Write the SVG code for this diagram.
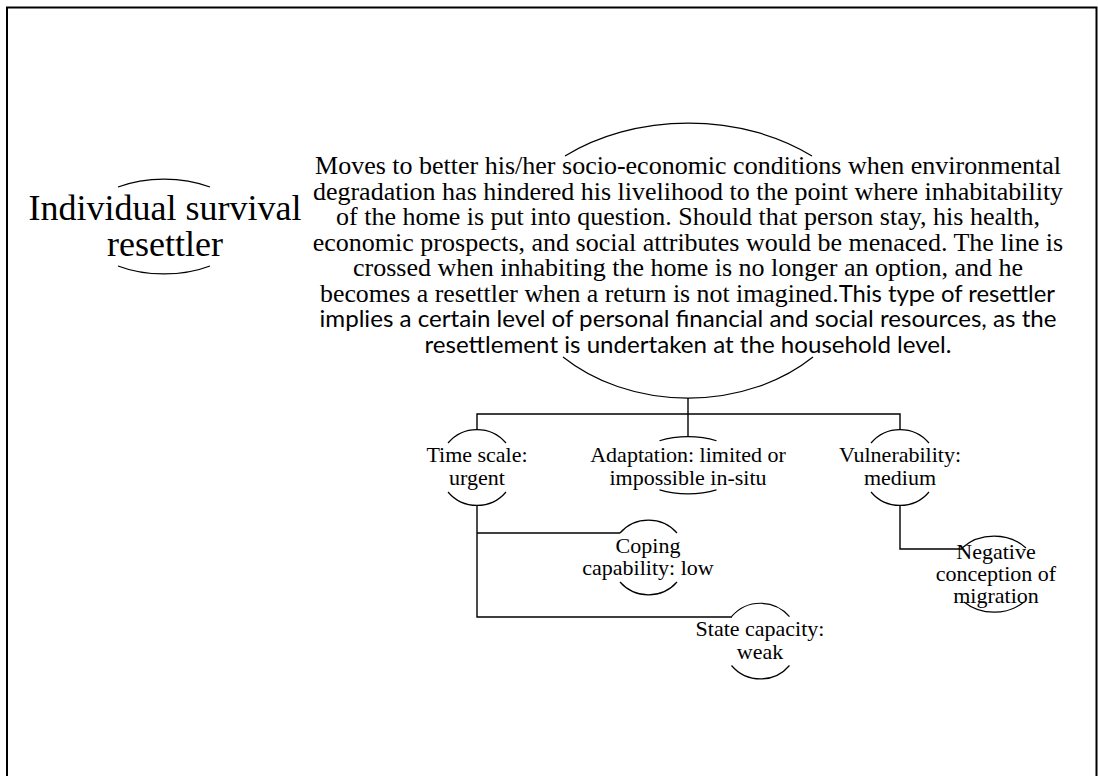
<svg xmlns="http://www.w3.org/2000/svg" width="1098" height="776" viewBox="0 0 1098 776">
  <style>
    .serif { font-family: "Liberation Serif", "Times New Roman", serif; fill: #000; }
    .sans { font-family: Lato, "Open Sans", sans-serif; fill: #000; }
    .title { font-size: 36px; text-anchor: middle; }
    .body { font-size: 26px; text-anchor: middle; }
    .small { font-size: 22px; text-anchor: middle; }
    .arc { fill: none; stroke: #000; stroke-width: 1.2; }
    .link { fill: none; stroke: #000; stroke-width: 1.4; }
    .frame { fill: none; stroke: #000; stroke-width: 2; }
  </style>
  <rect width="1098" height="776" fill="#fff"/>

  <!-- slide frame (open at the bottom) -->
  <path class="frame" d="M7 777 V7.5 H1096.5 V777"/>

  <!-- connectors -->
  <g id="connectors">
    <path class="link" d="M688 398 V437"/>
    <path class="link" d="M477 430 V414 H900 V430"/>
    <path class="link" d="M477 505 V617 H732"/>
    <path class="link" d="M477 533 H620"/>
    <path class="link" d="M900 505 V549 H962"/>
  </g>

  <!-- title node -->
  <g id="node-title">
    <path class="arc" d="M118 187 A83 47.5 0 0 1 210 187"/>
    <path class="arc" d="M118 266 A83 47.5 0 0 0 210 266"/>
    <text class="serif title" x="165" y="220">Individual survival</text>
    <text class="serif title" x="165" y="256">resettler</text>
  </g>

  <!-- description node -->
  <g id="node-description">
    <path class="arc" d="M565 156 A190 137 0 0 1 812 156"/>
    <path class="arc" d="M563 357 A175 137 0 0 0 813 357"/>
    <text class="serif body" x="688" y="174">Moves to better his/her socio-economic conditions when environmental</text>
    <text class="serif body" x="688" y="199.6">degradation has hindered his livelihood to the point where inhabitability</text>
    <text class="serif body" x="688" y="225.1">of the home is put into question. Should that person stay, his health,</text>
    <text class="serif body" x="688" y="250.7">economic prospects, and social attributes would be menaced. The line is</text>
    <text class="serif body" x="688" y="276.3">crossed when inhabiting the home is no longer an option, and he</text>
    <text x="320" y="301.9" textLength="735" lengthAdjust="spacingAndGlyphs"><tspan class="serif" font-size="26">becomes a resettler when a return is not imagined.</tspan><tspan class="sans" font-size="24">This type of resettler</tspan></text>
    <text class="sans" font-size="24" x="319.5" y="327.4" textLength="737" lengthAdjust="spacingAndGlyphs">implies a certain level of personal financial and social resources, as the</text>
    <text class="sans" font-size="24" x="424.5" y="353" textLength="527" lengthAdjust="spacingAndGlyphs">resettlement is undertaken at the household level.</text>
  </g>

  <!-- time scale node -->
  <g id="node-time-scale">
    <path class="arc" d="M448 443 A38 38 0 0 1 506 443"/>
    <path class="arc" d="M448 492 A38 38 0 0 0 506 492"/>
    <text class="serif small" x="477" y="461.7">Time scale:</text>
    <text class="serif small" x="477" y="485">urgent</text>
  </g>

  <!-- adaptation node -->
  <g id="node-adaptation">
    <path class="arc" d="M659.5 440.7 A56 28.7 0 0 1 716.5 440.7"/>
    <path class="arc" d="M659.5 489.9 A56 28.7 0 0 0 716.5 489.9"/>
    <text class="serif small" x="688" y="461.7">Adaptation: limited or</text>
    <text class="serif small" x="688" y="485">impossible in-situ</text>
  </g>

  <!-- vulnerability node -->
  <g id="node-vulnerability">
    <path class="arc" d="M871 443 A38 38 0 0 1 929 443"/>
    <path class="arc" d="M871 492 A38 38 0 0 0 929 492"/>
    <text class="serif small" x="900" y="461.7">Vulnerability:</text>
    <text class="serif small" x="900" y="485">medium</text>
  </g>

  <!-- coping capability node -->
  <g id="node-coping">
    <path class="arc" d="M620 533 A38 38 0 0 1 677 533"/>
    <path class="arc" d="M620 582 A38 38 0 0 0 677 582"/>
    <text class="serif small" x="648" y="553">Coping</text>
    <text class="serif small" x="648" y="575">capability: low</text>
  </g>

  <!-- state capacity node -->
  <g id="node-state-capacity">
    <path class="arc" d="M731.5 616.7 A38 38 0 0 1 789.5 616.7"/>
    <path class="arc" d="M731.5 665.5 A38 38 0 0 0 789.5 665.5"/>
    <text class="serif small" x="760" y="636">State capacity:</text>
    <text class="serif small" x="760" y="658.5">weak</text>
  </g>

  <!-- negative conception node -->
  <g id="node-negative">
    <path class="arc" d="M962 548 A44 38 0 0 1 1026 548"/>
    <path class="arc" d="M964 602 A44 38 0 0 0 1024 602"/>
    <text class="serif small" x="996" y="559">Negative</text>
    <text class="serif small" x="996" y="581">conception of</text>
    <text class="serif small" x="996" y="603">migration</text>
  </g>
</svg>
